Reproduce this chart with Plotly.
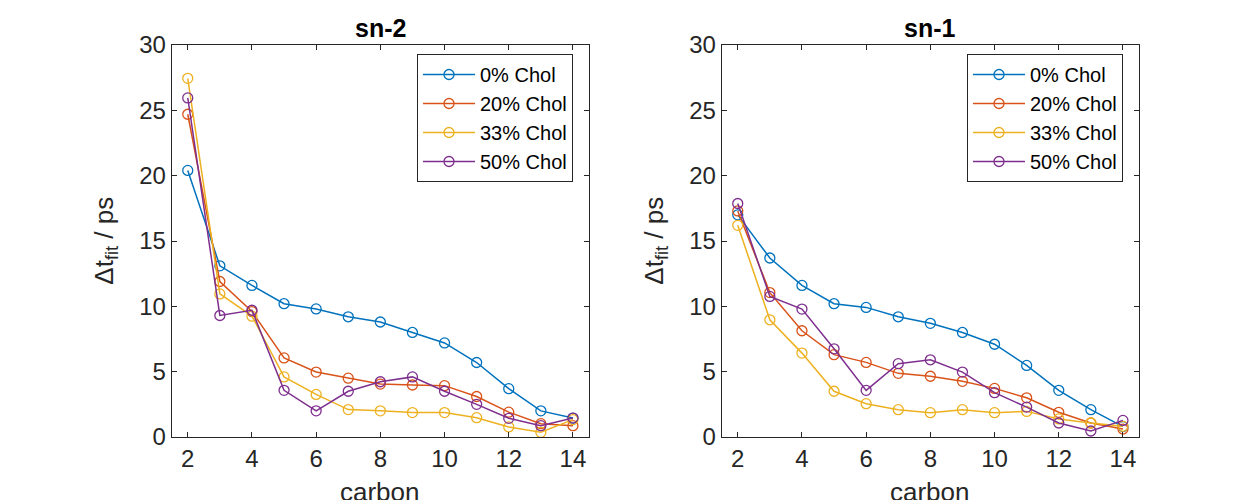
import plotly.graph_objects as go

carbon = [2, 3, 4, 5, 6, 7, 8, 9, 10, 11, 12, 13, 14]
series_names = ["0% Chol", "20% Chol", "33% Chol", "50% Chol"]
colors = ["#0072BD", "#D95319", "#EDB120", "#7E2F8E"]

# sn-2 chain
sn2_0 = [20.4, 13.1, 11.6, 10.2, 9.8, 9.2, 8.8, 8.0, 7.2, 5.7, 3.7, 2.0, 1.45]
sn2_20 = [24.7, 11.9, 9.6, 6.05, 4.97, 4.5, 4.05, 3.98, 3.93, 3.1, 1.9, 1.02, 0.87]
sn2_33 = [27.45, 10.95, 9.25, 4.6, 3.26, 2.1, 2.0, 1.87, 1.87, 1.48, 0.77, 0.36, 1.33]
sn2_50 = [25.95, 9.3, 9.7, 3.57, 2.0, 3.5, 4.23, 4.6, 3.5, 2.5, 1.43, 0.87, 1.45]

# sn-1 chain
sn1_0 = [17.0, 13.7, 11.6, 10.2, 9.92, 9.2, 8.7, 8.0, 7.1, 5.48, 3.57, 2.09, 0.8]
sn1_20 = [17.3, 11.05, 8.13, 6.3, 5.71, 4.87, 4.65, 4.26, 3.72, 3.0, 1.89, 1.07, 0.61]
sn1_33 = [16.2, 8.97, 6.42, 3.5, 2.55, 2.09, 1.86, 2.09, 1.86, 1.96, 1.38, 1.07, 0.82]
sn1_50 = [17.87, 10.76, 9.79, 6.75, 3.57, 5.61, 5.91, 4.97, 3.39, 2.29, 1.07, 0.46, 1.27]

panels = [
    ("sn-2", [sn2_0, sn2_20, sn2_33, sn2_50]),
    ("sn-1", [sn1_0, sn1_20, sn1_33, sn1_50]),
]

# page body has an 8px margin, so the figure is drawn 8px in from the window edge
OFF = 8
W, H = 1243 - OFF, 500 - OFF
FONT = "Liberation Sans, Arial, Helvetica, sans-serif"
AX = "#262626"


def px(x):
    return (x - OFF) / W


def py(y):
    return 1 - (y - OFF) / H


x_domains = [(px(171.7), px(589)), (px(721.7), px(1139))]
y_domain = (py(437), py(45))

fig = go.Figure()
for p, (title, data) in enumerate(panels):
    xa = "x" if p == 0 else "x2"
    ya = "y" if p == 0 else "y2"
    lg = "legend" if p == 0 else "legend2"
    for name, vals, col in zip(series_names, data, colors):
        fig.add_trace(go.Scatter(
            x=carbon, y=vals, name=name, mode="lines+markers",
            line=dict(color=col, width=1.5),
            marker=dict(symbol="circle-open", size=10, color=col, line=dict(width=1.3, color=col)),
            xaxis=xa, yaxis=ya, legend=lg,
        ))

axis_common = dict(
    showgrid=False, zeroline=False, showline=True, linecolor=AX, linewidth=1,
    mirror="ticks", ticks="inside", ticklen=5, tickcolor=AX, automargin=False,
    tickfont=dict(family=FONT, size=24, color=AX),
)

for p in range(2):
    sx = "" if p == 0 else "2"
    fig.layout["xaxis" + sx] = dict(
        axis_common, domain=list(x_domains[p]), range=[1.5, 14.5],
        tickvals=[2, 4, 6, 8, 10, 12, 14], anchor="y" + sx,
    )
    fig.layout["yaxis" + sx] = dict(
        axis_common, domain=list(y_domain), range=[0, 30],
        tickvals=[0, 5, 10, 15, 20, 25, 30], anchor="x" + sx,
    )

annotations = []
for p, (title, _) in enumerate(panels):
    x0, x1 = x_domains[p]
    annotations.append(dict(
        text="<b>%s</b>" % title, xref="paper", yref="paper",
        x=(x0 + x1) / 2, y=py(28), xanchor="center", yanchor="middle",
        showarrow=False, font=dict(family=FONT, size=25, color="black"),
    ))
    annotations.append(dict(
        text="Δt<sub>fit</sub> / ps", xref="paper", yref="paper",
        x=x0 - 67 / W, y=(y_domain[0] + y_domain[1]) / 2,
        xanchor="center", yanchor="middle", textangle=-90,
        showarrow=False, font=dict(family=FONT, size=26, color=AX),
    ))
    annotations.append(dict(
        text="carbon", xref="paper", yref="paper",
        x=(x0 + x1) / 2, y=py(492), xanchor="center", yanchor="middle",
        showarrow=False, font=dict(family=FONT, size=26, color=AX),
    ))

legend_common = dict(
    bgcolor="white", bordercolor=AX, borderwidth=1,
    font=dict(family=FONT, size=20, color="black"),
    xanchor="left", yanchor="top", itemwidth=52, tracegroupgap=0,
)

fig.update_layout(
    width=W, height=H,
    margin=dict(l=0, r=0, t=0, b=0),
    paper_bgcolor="white", plot_bgcolor="white",
    annotations=annotations,
    legend=dict(legend_common, x=px(417), y=py(54)),
    legend2=dict(legend_common, x=px(967), y=py(54)),
    showlegend=True,
)

fig.write_html("out.html")
